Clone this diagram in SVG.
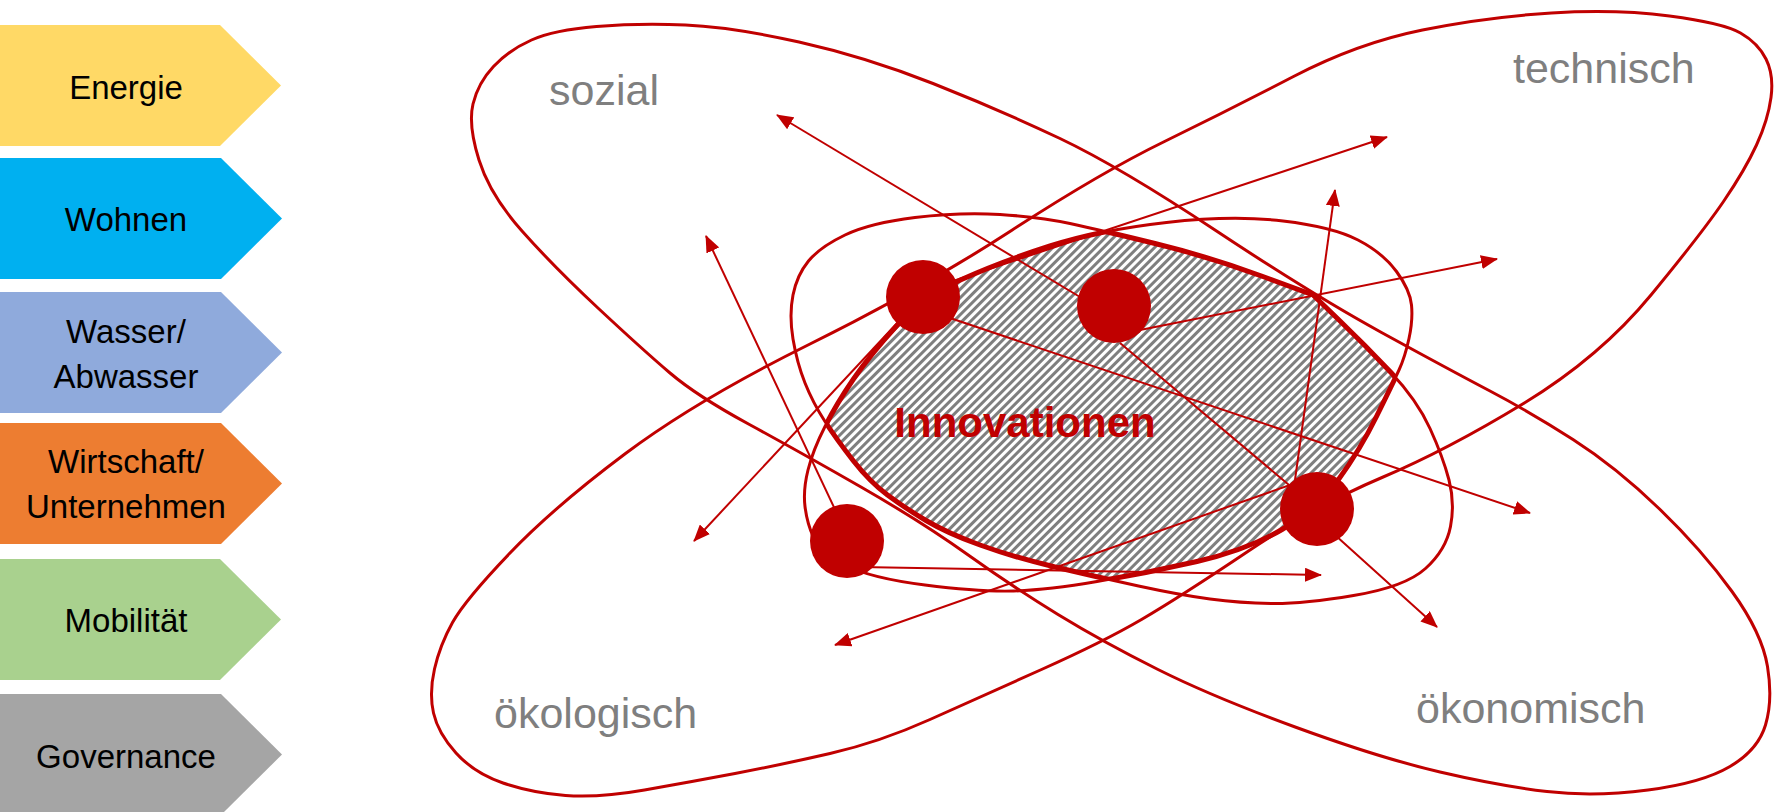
<svg xmlns="http://www.w3.org/2000/svg" width="1774" height="812" viewBox="0 0 1774 812">
<style>
.lbl{font-family:"Liberation Sans",Arial,sans-serif;font-size:33px;fill:#000;text-anchor:middle}
.dim{font-family:"Liberation Sans",Arial,sans-serif;font-size:43px;fill:#7F7F7F}
.orb{fill:none;stroke:#C00000;stroke-width:3}
.thick{fill:none;stroke:#C00000;stroke-width:5}
.arr{fill:none;stroke:#C00000;stroke-width:2}
.node{fill:#C00000}
</style>
<defs>
<marker id="ah" markerWidth="17" markerHeight="14" refX="16" refY="7" orient="auto" markerUnits="userSpaceOnUse"><path d="M0,0 L17,7 L0,14 Z" fill="#C00000"/></marker>
<pattern id="hatch" patternUnits="userSpaceOnUse" width="6" height="6" patternTransform="rotate(45)"><rect width="6" height="6" fill="#fff"/><rect width="3" height="6" fill="#7F7F7F"/></pattern>
<path id="alpha" d="M793,339 Q789,315 793,295 Q797,275 808.5,261 Q820,247 845,235 Q870,223 915,217.5 Q960,212 1000,214.5 Q1040,217 1070,223.5 Q1100,230 1155,243.5 Q1210,257 1261.5,276 L1313,295 L1339,320 Q1365,345 1391,372.5 Q1417,400 1430,428.5 Q1443,457 1449,480 Q1455,503 1450.5,526.5 Q1446,550 1425.5,568.5 Q1405,587 1353.5,595.5 Q1302,604 1271,603.5 Q1240,603 1210,599 Q1180,595 1138.5,586 Q1097,577 1055,567 Q1013,557 980,545 Q947,533 926,520.5 Q905,508 887.5,495 Q870,482 853.5,461 Q837,440 825,421.5 Q813,403 805,383 Q797,363 793,339 Z"/>
<path id="beta" d="M805,506.5 Q803,490 808,470 Q813,450 825,426.5 Q837,403 853.5,379 Q870,355 896.5,326 Q923,297 961.5,279.5 Q1000,262 1050,246 Q1100,230 1166.5,222.5 Q1233,215 1283,221 Q1333,227 1358,240 Q1383,253 1396.5,271.5 Q1410,290 1411.5,305 Q1413,320 1409,338.5 Q1405,357 1399,370 Q1393,383 1376.5,416.5 Q1360,450 1338.5,479.5 Q1317,509 1282,529.5 Q1247,550 1197,561.5 Q1147,573 1097,581.5 Q1047,590 1013.5,591 Q980,592 925,585 Q870,578 845,565 Q820,552 813.5,537.5 Q807,523 805,506.5 Z"/>
<clipPath id="clipAlpha"><use href="#alpha"/></clipPath>
<clipPath id="clipBeta"><use href="#beta"/></clipPath>
</defs>
<rect width="1774" height="812" fill="#fff"/>

<g id="sectors">
<g id="s-energie"><path d="M-1,25 H220 L281,85.5 L220,146 H-1 Z" fill="#FFD966"/><text class="lbl" x="126" y="99">Energie</text></g>
<g id="s-wohnen"><path d="M-1,158 H221 L282,218.5 L221,279 H-1 Z" fill="#00B0F0"/><text class="lbl" x="126" y="231">Wohnen</text></g>
<g id="s-wasser"><path d="M-1,292 H221 L282,352.5 L221,413 H-1 Z" fill="#8FAADC"/><text class="lbl" x="126" y="343">Wasser/</text><text class="lbl" x="126" y="388">Abwasser</text></g>
<g id="s-wirtschaft"><path d="M-1,423 H221 L282,483.5 L221,544 H-1 Z" fill="#ED7D31"/><text class="lbl" x="126" y="473">Wirtschaft/</text><text class="lbl" x="126" y="518">Unternehmen</text></g>
<g id="s-mobilitaet"><path d="M-1,559 H220 L281,619.5 L220,680 H-1 Z" fill="#A9D18E"/><text class="lbl" x="126" y="632">Mobilität</text></g>
<g id="s-governance"><path d="M-1,694 H221 L282,754.5 L221,815 H-1 Z" fill="#A5A5A5"/><text class="lbl" x="126" y="768">Governance</text></g>
</g>

<g id="region-innovationen">
<use href="#beta" fill="url(#hatch)" clip-path="url(#clipAlpha)"/>
</g>

<g id="orbits">
<path id="orbit-sozial" class="orb" d="M479,160 Q468,125 473,104 Q478,83 493.5,66.5 Q509,50 531.5,40 Q554,30 596.5,26.5 Q639,23 685.5,25 Q732,27 799,42 Q866,57 933,83.5 Q1000,110 1060,138.5 Q1120,167 1216.5,231 Q1313,295 1381.5,332.5 Q1450,370 1490,391 Q1530,412 1573,439.5 Q1616,467 1659,508.5 Q1702,550 1732,591.5 Q1762,633 1767.5,666.5 Q1773,700 1765.5,725 Q1758,750 1730,766.5 Q1702,783 1648,790 Q1594,797 1547,791.5 Q1500,786 1440,772 Q1380,758 1296.5,727.5 Q1213,697 1158,669.5 Q1103,642 1058,614.5 Q1013,587 967.5,554.5 Q922,522 861,487 Q800,452 748.5,424 Q697,396 670,373 Q643,350 598.5,308.5 Q554,267 522,231 Q490,195 479,160 Z"/>
<path id="orbit-technisch" class="orb" d="M433.5,713 Q429,693 434.5,669 Q440,645 452.5,622.5 Q465,600 509.5,553.5 Q554,507 625.5,453.5 Q697,400 810,344 Q923,288 1011.5,230.5 Q1100,173 1164.5,141.5 Q1229,110 1293.5,76.5 Q1358,43 1422.5,30 Q1487,17 1551.5,13 Q1616,9 1669.5,16 Q1723,23 1740.5,33 Q1758,43 1766,59 Q1774,75 1771,97.5 Q1768,120 1756.5,145 Q1745,170 1723.5,201.5 Q1702,233 1651,295 Q1600,357 1523.5,403.5 Q1447,450 1382,477.5 Q1317,505 1248.5,551 Q1180,597 1141.5,619.5 Q1103,642 1041.5,669.5 Q980,697 930,719.5 Q880,742 830,753.5 Q780,765 735,773.5 Q690,782 644.5,790 Q599,798 565.5,795.5 Q532,793 503,783 Q474,773 456,753 Q438,733 433.5,713 Z"/>
<use id="orbit-inner-1" href="#alpha" class="orb"/>
<use id="orbit-inner-2" href="#beta" class="orb"/>
<use href="#alpha" class="thick" clip-path="url(#clipBeta)"/>
<use href="#beta" class="thick" clip-path="url(#clipAlpha)"/>
</g>

<text id="label-innovationen" x="1025" y="437" text-anchor="middle" font-family="'Liberation Sans',Arial,sans-serif" font-size="42" font-weight="bold" fill="#C00000">Innovationen</text>

<g id="connectors">
<line class="arr" x1="1085" y1="300" x2="777" y2="115" marker-end="url(#ah)"/>
<line class="arr" x1="1140" y1="330" x2="1497" y2="259" marker-end="url(#ah)"/>
<line class="arr" x1="1120" y1="343" x2="1295" y2="490"/>
<line class="arr" x1="950" y1="282" x2="1387" y2="137" marker-end="url(#ah)"/>
<line class="arr" x1="950" y1="318" x2="1530" y2="513" marker-end="url(#ah)"/>
<line class="arr" x1="900" y1="320" x2="694" y2="541" marker-end="url(#ah)"/>
<line class="arr" x1="840" y1="520" x2="706" y2="236" marker-end="url(#ah)"/>
<line class="arr" x1="860" y1="567" x2="1321" y2="575" marker-end="url(#ah)"/>
<line class="arr" x1="1295" y1="480" x2="1335" y2="190" marker-end="url(#ah)"/>
<line class="arr" x1="1335" y1="535" x2="1437" y2="627" marker-end="url(#ah)"/>
<line class="arr" x1="1290" y1="485" x2="835" y2="645" marker-end="url(#ah)"/>
</g>

<g id="nodes">
<circle id="n1" class="node" cx="923" cy="297" r="37"/>
<circle id="n2" class="node" cx="1114" cy="306" r="37"/>
<circle id="n3" class="node" cx="847" cy="541" r="37"/>
<circle id="n4" class="node" cx="1317" cy="509" r="37"/>
</g>

<g id="dimension-labels">
<text class="dim" x="549" y="105">sozial</text>
<text class="dim" x="1513" y="83">technisch</text>
<text class="dim" x="494" y="728">ökologisch</text>
<text class="dim" x="1416" y="723">ökonomisch</text>
</g>
</svg>
